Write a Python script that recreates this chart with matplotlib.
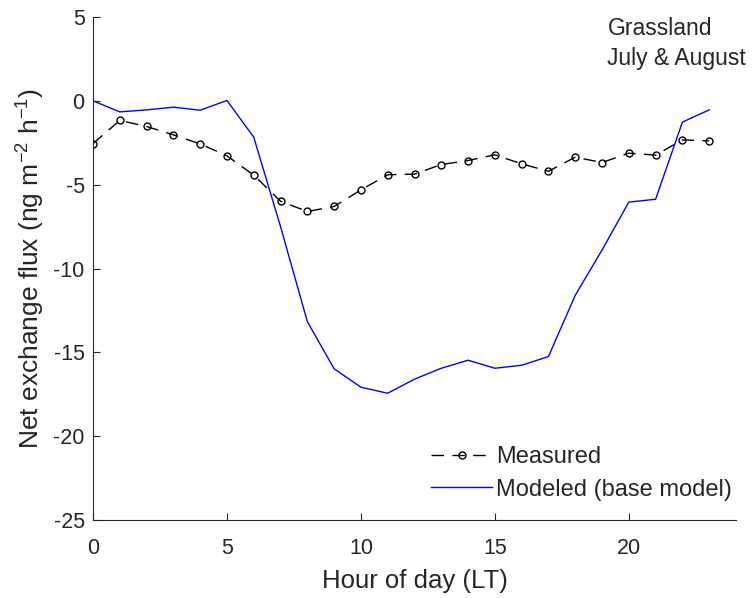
import matplotlib
matplotlib.use("Agg")
import matplotlib.pyplot as plt

plt.rcParams['font.family'] = ['Liberation Sans', 'DejaVu Sans']
plt.rcParams['mathtext.fontset'] = 'custom'
plt.rcParams['mathtext.rm'] = 'Liberation Sans'
plt.rcParams['axes.unicode_minus'] = False

hours = list(range(24))
measured = [-2.55, -1.17, -1.53, -2.03, -2.57, -3.28, -4.43, -5.99, -6.6, -6.3,
            -5.31, -4.41, -4.37, -3.8, -3.56, -3.22, -3.76, -4.2, -3.36, -3.68,
            -3.12, -3.24, -2.33, -2.39]
modeled = [0.0, -0.66, -0.54, -0.38, -0.56, 0.02, -2.17, -7.5, -13.17, -15.98,
           -17.08, -17.44, -16.6, -15.95, -15.47, -15.95, -15.77, -15.25, -11.6, -8.9,
           -6.04, -5.87, -1.27, -0.54]

xticks = [0, 5, 10, 15, 20]
yticks = [-25, -20, -15, -10, -5, 0, 5]

gray = '#262626'

fig = plt.figure(figsize=(7.52, 5.98), dpi=100)
ax = fig.add_axes([0.1237, 0.1304, 0.855, 0.8412])

ax.plot(hours, measured, color='black', linestyle=(0, (9, 6)), linewidth=1.0,
        marker='o', markersize=5, markerfacecolor='none', markeredgecolor='black',
        markeredgewidth=1.0, label='Measured')
ax.plot(hours, modeled, color='#0000ff', linewidth=1.0, label='Modeled (base model)')

ax.set_xlim(0, 24)
ax.set_ylim(-25, 5)
ax.set_xticks(xticks)
ax.set_yticks(yticks)
ax.tick_params(direction='in', length=5, width=0.8, colors=gray, labelsize=15.5)
ax.tick_params(axis='x', pad=13)
ax.tick_params(axis='y', pad=6)
for side in ['top', 'right']:
    ax.spines[side].set_visible(False)
for side in ['left', 'bottom']:
    ax.spines[side].set_color(gray)
    ax.spines[side].set_linewidth(0.8)

ax.set_xlabel('Hour of day (LT)', fontsize=18.5, color=gray, labelpad=7)
ax.set_ylabel('Net exchange flux (ng m$^{-2}$ h$^{-1}$)', fontsize=19, color=gray, labelpad=5)

ax.text(0.80, 1.0, 'Grassland\nJuly & August', transform=ax.transAxes,
        fontsize=16.5, color=gray, va='top', ha='left', linespacing=1.4)

leg = ax.legend(loc='lower right', bbox_to_anchor=(1.008, 0.02), frameon=False,
                fontsize=17, handlelength=2.6, handletextpad=0.15, labelspacing=0.45,
                borderaxespad=0)
for t in leg.get_texts():
    t.set_color(gray)

fig.savefig('out.png', dpi=100)
